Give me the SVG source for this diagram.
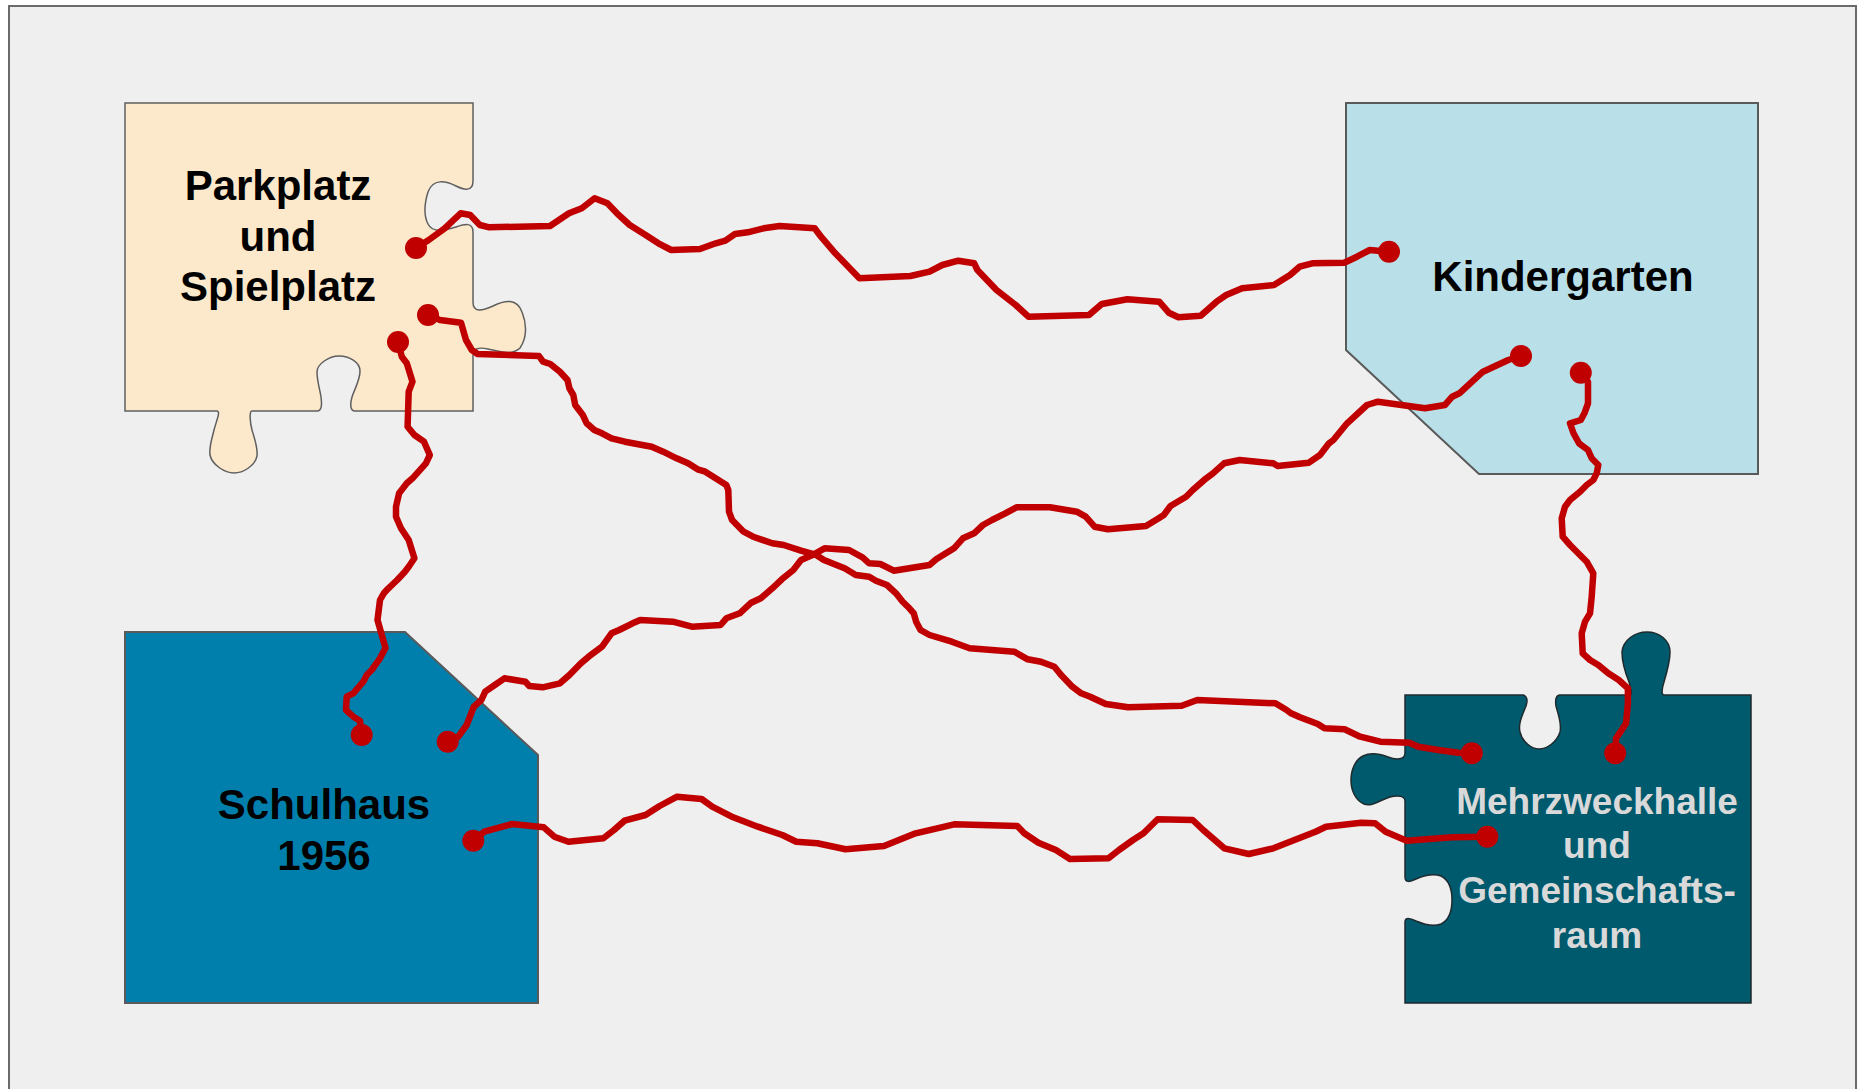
<svg xmlns="http://www.w3.org/2000/svg" width="1863" height="1089" viewBox="0 0 1863 1089">
<style>
.lbl{font-family:"Liberation Sans",Arial,sans-serif;font-weight:bold;text-anchor:middle;}
.dark{fill:#000000;font-size:42px;}
.light{fill:#d9d9d9;font-size:37px;}
.wire{fill:none;stroke:#c00000;stroke-width:6.5;stroke-linejoin:round;stroke-linecap:round;}
.dot{fill:#c00000;}
</style>
<rect x="0" y="0" width="1863" height="1089" fill="#ffffff"/>
<rect x="9" y="6" width="1847" height="1095" fill="#efefef" stroke="#6b6b6b" stroke-width="2"/>

<g id="parkplatz">
<path d="M125,103 H473 V181 C473,192 464,190 456,186 C446,181 433,178 428,192 C424,205 424,216 428,224 C433,234 446,230 456,227 C465,224 473,222 473,232 V302 C473,313 482,311 493,306 C505,300 517,298 522,312 C527,324 527,338 520,348 C512,356 498,351 488,349 C479,347 473,348 473,356 V411 H355 C350,411 350,404 352,397 C355,388 360,380 360,371 C360,362 349,356 339,356 C329,356 317,364 317,372 C317,381 320,390 321,397 C322,404 322,411 317,411 H252 C249,411 250,422 252,430 C255,440 258,448 257,456 C255,466 243,473 234,473 C225,473 212,465 210,455 C209,446 212,439 214,430 C216,422 221,411 217,411 H125 Z" fill="#fce8ca" stroke="#5f5f5f" stroke-width="1.5"/>
<text class="lbl dark" x="278" y="200">Parkplatz</text>
<text class="lbl dark" x="278" y="251">und</text>
<text class="lbl dark" x="278" y="301">Spielplatz</text>
</g>

<g id="kindergarten">
<polygon points="1346,103 1758,103 1758,474 1479,474 1346,350" fill="#b9dfe9" stroke="#5a5a5a" stroke-width="2"/>
<text class="lbl dark" x="1563" y="291">Kindergarten</text>
</g>

<g id="schulhaus">
<polygon points="125,632 405,632 538,755 538,1003 125,1003" fill="#007fad" stroke="#5a5a5a" stroke-width="2"/>
<text class="lbl dark" x="324" y="819">Schulhaus</text>
<text class="lbl dark" x="324" y="870">1956</text>
</g>

<g id="mehrzweckhalle">
<path d="M1405,695 H1523 C1527,696 1528,700 1526,706 C1522,716 1518,724 1520,732 C1522,742 1532,749 1539,749 C1547,749 1557,742 1560,732 C1562,723 1558,714 1556,706 C1555,700 1556,695 1560,695 H1630 C1632,695 1631,688 1629,682 C1625,672 1622,662 1622,652 C1623,640 1635,632 1647,632 C1659,632 1670,640 1670,652 C1670,662 1667,672 1664,682 C1662,688 1661,695 1664,695 H1751 V1003 H1405 V922 C1405,917 1410,918 1416,921 C1423,924 1433,927 1441,924 C1449,920 1452,910 1452,900 C1452,890 1449,880 1441,876 C1433,873 1423,876 1416,879 C1410,882 1405,883 1405,877 V801 C1405,796 1398,795 1390,797 C1380,800 1372,807 1364,804 C1355,800 1351,790 1351,780 C1351,770 1355,760 1363,756 C1371,752 1380,754 1388,757 C1396,760 1405,760 1405,753 Z" fill="#005a6e" stroke="#1e2a2e" stroke-width="1.5"/>
<text class="lbl light" x="1597" y="814">Mehrzweckhalle</text>
<text class="lbl light" x="1597" y="858">und</text>
<text class="lbl light" x="1597" y="903">Gemeinschafts-</text>
<text class="lbl light" x="1597" y="948">raum</text>
</g>

<g id="connectors">
<path class="wire" d="M416,248 L428.7,240 L444.7,228.3 L460.6,213.3 L470.2,215 L479.8,225 L489.3,227.3 L550,226 L569,213.3 L581.8,208.3 L594.6,198.3 L607.4,203.3 L617,213.3 L629.7,225 L645.6,235 L658.4,243.3 L671.2,250 L699.9,249 L715.8,243.3 L725.4,240.7 L735,234 L747.7,232.3 L763.7,228.3 L779.6,226 L814.7,228.3 L821,236.7 L833.8,251.7 L859.4,278.3 L910.4,276 L929.5,271.7 L942.3,265 L958.3,260.7 L974.2,263.3 L977.4,270 L996.5,290 L1009.3,300 L1015.7,305 L1028.4,316.7 L1089,315 L1101.8,304 L1127.3,299.3 L1159.2,301.7 L1168.8,312.7 L1178.4,317.3 L1200.7,315.7 L1216.6,301.7 L1226.2,295 L1242.2,288.3 L1274,285 L1290,275 L1299.6,266.7 L1312.3,263.3 L1344.2,262.7 L1357,256.7 L1369.8,250 L1389,251.7"/>
<path class="wire" d="M428,315 L440,320 L461,322.7 L466,340 L471.8,350 L477.6,354 L539,356 L543,361.7 L550.3,364 L559.9,371.7 L567.5,380 L569.4,388.3 L573.3,395 L575.2,405 L582.8,415 L586.7,423.3 L594.3,430 L602,433.3 L611.5,438.3 L624.9,441.7 L651.7,446.7 L663.2,451.7 L676.6,458.3 L688.1,463.3 L697.6,469.3 L705.3,471.7 L726.3,485 L728.3,490 L729,511.7 L732.1,520 L743.6,531.7 L753.1,536.7 L772.3,543.3 L783.7,545 L801,550.7 L816.3,555 L823.9,560 L844.6,568.3 L855.8,575 L869.2,576.7 L875.9,580.7 L887,585 L896,593.3 L902.7,601.7 L909.4,608.3 L913.8,613.3 L916.1,621.7 L920.5,630 L929.5,635 L951.8,641.7 L969.6,648.3 L1014.3,651.7 L1027.7,659.3 L1041,661.7 L1054.4,666.7 L1061.1,675 L1072.3,686.7 L1081.2,693.3 L1090.2,696.7 L1105.8,704 L1128.1,707.3 L1181.7,705.7 L1197.3,700 L1275.4,703.3 L1286.6,710 L1291.1,713.3 L1300,717.3 L1317.8,724 L1324.5,728.3 L1344.6,729.3 L1360.2,736.7 L1380.3,741.7 L1409.3,742.7 L1418.3,746.7 L1438.4,750 L1458.4,752.7 L1471.8,753.3"/>
<path class="wire" d="M398,342 L401.8,356.7 L406.8,363.3 L412.5,381.7 L408.7,391.7 L407.6,426.7 L414.4,435 L424,441.7 L429.8,455 L425.9,463.3 L412.5,478.3 L406.8,483.3 L399.1,493.3 L396,506.7 L396,516.7 L401,528.3 L408.7,540 L414.4,558.3 L408.7,566.7 L404.9,571.7 L397.2,580 L388.4,588.3 L383.8,593.3 L380,600 L377.5,620 L385.5,648 L380,658.3 L371.7,670 L366.7,675 L363.3,681.7 L353.3,693.3 L346.7,696.7 L346,710 L353.3,716.7 L360,720.7 L361.7,735"/>
<path class="wire" d="M447.7,741.7 L458.3,736.7 L466.7,725 L473.8,706.7 L481.4,700 L485.2,691.7 L494.8,685 L504.4,678.3 L525.4,681.7 L529.3,686 L542.6,687.3 L559.9,683.3 L569.4,675 L580.9,663.3 L588.6,656.7 L602,646.7 L611.5,633.3 L619.2,630 L632.6,623.3 L640.2,620 L672.8,621.7 L691.9,626.7 L720.6,625 L726.3,618.3 L739.7,613.3 L751.2,602.7 L760.8,598.3 L772.3,588.3 L781.8,579.3 L793.3,570 L801,560 L812.5,555 L824.6,548.3 L849.1,550 L862.5,557.3 L869.2,563.3 L880.4,564 L893.7,570.7 L929.5,565 L936.2,559.3 L954,548.3 L962.9,538.3 L974.1,533.3 L983,525 L992,520 L1005.3,513.3 L1016.5,507.3 L1050,507.3 L1076.8,511.7 L1085.7,516.7 L1094.6,526.7 L1108,529.3 L1146,526 L1157.1,519.3 L1163.8,515 L1170.5,506 L1186.1,496.7 L1192.8,490 L1206.2,478.3 L1212.9,473.3 L1224.1,463.3 L1239.7,460 L1273.2,463.3 L1277.7,466 L1308.9,462.7 L1320,455 L1329,443.3 L1333.4,440 L1347.1,423.3 L1361.6,410 L1367,405 L1377.9,401.7 L1425,408.3 L1444.9,405 L1452.2,396.7 L1459.4,393.3 L1464.8,388.3 L1477.5,376.7 L1483,371.7 L1497.5,365 L1508.3,360 L1521,356"/>
<path class="wire" d="M473.3,840.7 L484.2,831.7 L512.2,824 L543.8,827.3 L554.3,836.7 L568.4,841.7 L603.4,838.3 L614,830 L624.5,820.7 L645.5,815 L659.6,806 L677.1,796.7 L701.6,799 L712.2,806.7 L733.2,817.3 L757.8,826.7 L782.3,835 L796.3,841.7 L817.4,843.3 L845.5,849.3 L884,846 L915.6,833.3 L954.2,824.3 L1017.3,826 L1024.3,833.3 L1038.4,842.7 L1055.9,850 L1069.9,859 L1108.5,858.3 L1119,850 L1133,840 L1143.5,833.3 L1157.6,819.3 L1192.7,820 L1203.2,830 L1224.3,848.3 L1248.8,854 L1273.4,848.3 L1287.4,842.7 L1315.5,831.7 L1326,826.7 L1361.1,822.7 L1375.1,823.3 L1385.6,831.7 L1406.7,840.7 L1452.2,837.3 L1487.3,836.7"/>
<path class="wire" d="M1580.8,372.7 L1588,381.7 L1588,403.3 L1584.4,413.3 L1580.8,420 L1570,423.3 L1573.5,433.3 L1579,443.3 L1588,450 L1591.7,458.3 L1598.3,465 L1596.7,473.3 L1593.3,480 L1586.7,485 L1580,491.7 L1570,500 L1565,506.7 L1561.7,518.3 L1562.7,536.7 L1570,545 L1586.7,561.7 L1593.3,573.3 L1591.7,596.7 L1590,613.3 L1585,621.7 L1581.7,633.3 L1582.7,653.3 L1590,660 L1598.3,665 L1608.3,673.3 L1618.8,680 L1627.9,688.3 L1627.9,703.3 L1626.1,723.3 L1620.6,731.7 L1616,738.3 L1615.2,753.3"/>
<circle class="dot" cx="416" cy="248" r="11"/>
<circle class="dot" cx="1389" cy="251.7" r="11"/>
<circle class="dot" cx="428" cy="315" r="11"/>
<circle class="dot" cx="1471.8" cy="753.3" r="11"/>
<circle class="dot" cx="398" cy="342" r="11"/>
<circle class="dot" cx="361.7" cy="735" r="11"/>
<circle class="dot" cx="447.7" cy="741.7" r="11"/>
<circle class="dot" cx="1521" cy="356" r="11"/>
<circle class="dot" cx="473.3" cy="840.7" r="11"/>
<circle class="dot" cx="1487.3" cy="836.7" r="11"/>
<circle class="dot" cx="1580.8" cy="372.7" r="11"/>
<circle class="dot" cx="1615.2" cy="753.3" r="11"/>
</g>
</svg>
